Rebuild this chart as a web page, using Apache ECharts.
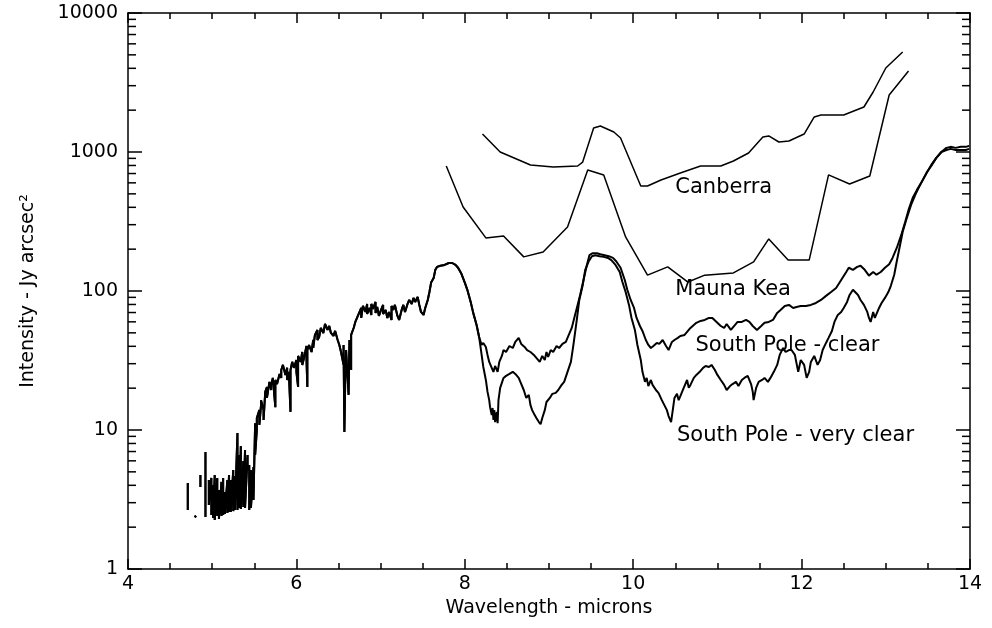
<!DOCTYPE html>
<html>
<head>
<meta charset="utf-8">
<script src="https://cdn.jsdelivr.net/npm/echarts@6/dist/echarts.min.js"></script>
<style>
html,body{margin:0;padding:0;background:#fff}
#chart{width:992px;height:628px}
</style>
</head>
<body>
<div id="chart"></div>
<script>
// Sky background spectra, wavelength in microns, intensity in Jy arcsec^-2
// common part of both South Pole spectra (null = gap in the trace)
var sharedWave = [4.71,4.71,4.75,4.79,4.81,4.83,4.86,4.86,4.89,4.92,4.92,4.94,
    4.96,4.96,4.99,4.99,5.01,5.01,5.03,5.03,5.06,5.06,5.08,5.08,5.11,5.11,5.13,5.13,5.15,5.15,
    5.18,5.18,5.20,5.20,5.22,5.22,5.25,5.25,5.27,5.27,5.30,5.30,5.32,5.32,5.34,5.34,5.37,5.37,
    5.39,5.39,5.42,5.42,5.44,5.44,5.46,5.46,5.49,5.49,5.51,5.51,5.53,5.53,5.56,5.56,5.58,5.58,
    5.61,5.61,5.63,5.65,5.65,5.68,5.70,5.70,5.72,5.75,5.75,5.77,5.80,5.82,5.82,5.84,5.87,5.89,5.89,
    5.91,5.93,5.93,5.95,5.97,6.00,6.00,6.02,6.02,6.05,6.07,6.07,6.09,6.12,6.12,6.13,6.13,6.15,
    6.18,6.20,6.20,6.22,6.25,6.25,6.27,6.29,6.32,6.34,6.37,6.39,6.41,6.44,6.46,6.49,6.51,6.53,
    6.56,6.56,6.57,6.58,6.59,6.62,6.63,6.65,6.65,6.68,6.70,6.72,6.75,6.77,6.77,6.79,6.82,6.84,6.84,
    6.87,6.89,6.89,6.91,6.94,6.94,6.96,6.98,7.01,7.03,7.03,7.06,7.08,7.10,7.13,7.13,7.15,7.17,
    7.20,7.22,7.25,7.27,7.29,7.32,7.34,7.37,7.39,7.41,7.44,7.46,7.48,7.51,7.53,7.56,7.58,7.60,
    7.63,7.65,7.67,7.71,7.76,7.81,7.85,7.89,7.92,7.96,8.00,8.03,8.07,8.10,8.14,8.17];
var sharedVal = [4.16,2.66,null,2.42,2.36,null,4.75,3.89,null,6.95,2.37,null,
    4.37,2.89,4.52,2.45,4.02,2.33,4.75,2.25,4.52,2.41,3.70,2.29,4.23,2.41,4.52,2.45,3.58,2.49,
    4.37,2.53,4.75,2.57,4.37,2.57,5.16,2.61,4.67,2.66,9.52,2.66,6.61,2.75,7.68,2.70,5.99,2.79,
    7.18,2.75,6.61,5.16,5.60,2.66,5.16,2.75,5.42,3.14,11.2,6.61,10.0,12.2,13.9,10.9,15.1,16.4,
    13.9,11.8,18.8,20.4,17.0,22.2,19.4,21.1,23.7,14.6,22.9,21.4,25.3,23.7,27.0,29.4,24.9,28.0,22.9,
    26.2,13.5,27.0,30.9,28.0,31.9,26.2,20.4,34.1,30.9,36.4,29.4,33.0,40.2,31.9,20.4,37.6,40.9,
    36.4,44.4,38.9,48.3,52.5,44.4,46.7,54.2,49.9,57.9,52.5,56.0,49.9,47.5,51.6,44.4,40.9,36.4,
    29.4,40.9,9.68,22.9,37.6,17.9,44.4,27.0,48.3,54.2,59.9,64.0,70.7,75.5,64.0,78.1,70.7,80.7,68.4,
    75.5,67.3,80.7,74.3,83.4,69.6,76.8,66.2,74.3,79.4,68.4,73.1,64.0,70.7,61.9,78.1,73.1,79.4,
    66.2,61.9,73.1,79.4,70.7,80.7,86.2,80.7,89.2,83.4,90.6,79.4,70.7,67.3,75.5,86.2,98.3,115,
    124,142,149,152,154,159,159,154,147,133,115,102,83.4,69.6,57.0,46.7];

var clearWave = [8.20,8.22,8.25,8.27,8.29,8.32,8.34,8.36,8.39,8.41,8.44,8.46,8.49,8.53,8.57,8.60,
    8.64,8.67,8.71,8.74,8.78,8.82,8.85,8.89,8.92,8.95,8.97,8.99,9.02,9.05,9.09,9.12,9.16,9.20,
    9.23,9.27,9.30,9.34,9.37,9.41,9.45,9.48,9.52,9.57,9.61,9.66,9.71,9.76,9.80,9.85,9.90,9.93,
    9.97,10.01,10.04,10.08,10.11,10.15,10.18,10.21,10.24,10.28,10.31,10.35,10.39,10.42,10.46,
    10.49,10.53,10.56,10.61,10.65,10.68,10.72,10.75,10.80,10.85,10.90,10.94,10.99,11.04,11.08,
    11.11,11.16,11.21,11.24,11.29,11.34,11.38,11.42,11.47,11.52,11.56,11.61,11.66,11.71,11.75,
    11.80,11.85,11.90,11.94,11.99,12.05,12.11,12.17,12.23,12.29,12.35,12.41,12.47,12.53,12.56,
    12.61,12.66,12.70,12.75,12.80,12.85,12.89,12.94,12.99,13.04,13.08,13.13,13.18,13.23,13.27,
    13.32,13.37,13.42,13.48,13.54,13.60,13.66,13.72,13.77,13.83,13.89,13.95,13.99];
var clearVal = [40.9,42.3,39.6,34.7,30.9,28.0,26.2,28.9,26.2,30.9,34.1,37.6,36.4,40.2,38.9,43.0,
    46.0,41.6,39.6,37.6,36.4,34.7,33.0,30.9,34.1,31.9,36.4,33.5,37.6,36.4,40.2,38.9,41.6,43.0,
    47.5,54.2,64.0,79.4,93.7,120,154,181,187,187,184,181,178,173,163,147,120,102,
    86.2,75.5,64.0,56.0,51.6,44.4,40.9,38.9,40.2,42.3,41.6,44.4,40.2,37.6,43.0,
    44.4,46.0,47.5,48.3,51.6,54.2,57.0,59.0,60.9,61.9,64.0,64.0,59.9,56.0,54.2,
    57.9,52.5,57.0,59.9,59.9,61.9,59.9,56.0,52.5,56.0,59.0,59.9,61.9,69.6,73.1,
    78.1,79.4,75.5,76.8,78.1,78.1,79.4,82.0,86.2,92.2,98.3,105,120,137,147,
    142,149,152,142,129,137,131,137,147,156,173,204,249,314,383,
    468,534,600,696,808,907,1000,1071,1089,1071,1089,1089,1107];

var veryClearWave = [8.20,8.22,8.25,8.27,8.29,8.30,8.32,8.33,8.34,8.35,8.36,8.38,8.39,8.40,8.42,
    8.46,8.49,8.53,8.57,8.60,8.64,8.66,8.70,8.73,8.76,8.78,8.80,8.83,8.85,8.88,8.90,8.92,8.95,
    8.97,9.01,9.04,9.08,9.11,9.15,9.18,9.22,9.26,9.29,9.33,9.36,9.40,9.43,9.47,9.51,9.55,9.60,
    9.65,9.70,9.74,9.79,9.84,9.87,9.91,9.95,9.98,10.02,10.05,10.09,10.11,10.14,10.16,10.18,
    10.21,10.23,10.27,10.30,10.34,10.37,10.40,10.42,10.45,10.47,10.49,10.52,10.54,10.56,10.60,
    10.64,10.66,10.68,10.72,10.75,10.79,10.83,10.86,10.90,10.93,10.97,11.00,11.04,11.08,11.11,
    11.15,11.18,11.22,11.25,11.29,11.32,11.36,11.40,11.42,11.43,11.46,11.49,11.53,11.56,11.60,
    11.63,11.67,11.71,11.74,11.78,11.81,11.85,11.88,11.92,11.96,11.99,12.03,12.06,12.09,12.11,
    12.15,12.19,12.22,12.25,12.29,12.32,12.36,12.39,12.43,12.47,12.50,12.54,12.57,12.61,12.63,
    12.67,12.70,12.74,12.78,12.80,12.82,12.85,12.87,12.89,12.92,12.95,12.99,13.03,13.06,13.10,
    13.13,13.17,13.20,13.25,13.30,13.35,13.39,13.44,13.49,13.54,13.60,13.66,13.72,13.77,13.83,
    13.89,13.95,13.99];
var veryClearVal = [34.7,28.4,22.9,18.8,16.4,14.6,12.8,14.4,11.8,13.9,11.4,13.5,11.2,16.4,20.1,
    23.7,24.5,25.3,26.2,25.3,23.7,22.2,19.4,17.0,17.9,15.1,13.9,12.8,12.2,11.4,11.0,12.2,13.9,
    15.9,17.0,18.2,18.5,19.4,21.1,22.2,26.2,30.9,40.9,61.9,86.2,110,142,163,178,181,178,
    176,173,167,154,137,117,98.3,79.4,64.0,52.5,40.9,31.9,26.2,22.2,23.7,20.7,
    22.9,21.1,19.4,18.5,16.4,15.1,13.9,12.6,11.4,13.9,17.0,18.2,16.4,17.5,20.1,
    22.9,20.1,21.1,23.7,24.9,26.2,28.0,28.9,28.4,29.4,27.0,24.9,22.9,21.1,19.4,
    20.7,21.4,22.2,20.7,22.9,23.7,24.5,21.4,18.8,16.4,20.1,22.2,22.9,23.7,22.2,
    23.7,26.2,29.4,34.7,38.9,36.4,37.6,37.6,34.7,26.2,31.9,29.4,23.7,26.2,30.9,
    34.1,29.4,31.9,37.6,42.3,46.0,51.6,59.9,67.3,70.7,75.5,83.4,93.7,102,105,
    93.7,86.2,79.4,70.7,64.0,59.9,70.7,64.0,68.4,75.5,82.0,89.2,98.3,109,131,
    163,215,266,336,416,491,552,630,720,795,907,1000,1034,1053,1034,
    1034,1034,1053];

var maunaWave = [7.78,7.98,8.25,8.46,8.70,8.93,9.22,9.46,9.65,9.91,10.17,10.41,10.65,10.85,
    11.19,11.43,11.61,11.84,12.09,12.32,12.57,12.81,13.04,13.27];
var maunaVal = [793,402,241,249,176,191,289,742,684,245,130,149,116,130,
    135,162,237,167,167,684,589,672,2570,3826];

var canberraWave = [8.21,8.42,8.78,9.05,9.34,9.40,9.53,9.61,9.77,9.85,10.09,10.17,10.33,10.56,
    10.80,11.04,11.19,11.37,11.54,11.61,11.73,11.85,12.03,12.15,12.23,12.50,12.74,12.85,13.00,13.20];
var canberraVal = [1347,1000,806,780,793,846,1489,1538,1393,1261,569,569,629,706,
    793,793,861,984,1282,1304,1180,1200,1347,1786,1846,1846,2108,2702,4020,5240];

// site labels
var siteNames = ['Canberra', 'Mauna Kea', 'South Pole - clear', 'South Pole - very clear'];
var siteWave = [10.50, 10.50, 10.74, 10.52];
var siteVal = [551, 102, 40.2, 9.06];

var xTicks = [4, 6, 8, 10, 12, 14];
var yTicks = [1, 10, 100, 1000, 10000];
var yMinorTicks = [2,3,4,5,6,7,8,9, 20,30,40,50,60,70,80,90,
    200,300,400,500,600,700,800,900, 2000,3000,4000,5000,6000,7000,8000,9000];

function pairs(wave, val){
    return wave.map(function(w, i){
        return [w, val[i] == null ? '-' : val[i]];
    });
}

var font = 'DejaVu Sans';
var black = '#000';

var myChart = echarts.init(document.getElementById('chart'));

function xAxisOpt(pos, showLabel){
    return {
        type: 'value', position: pos,
        min: xTicks[0], max: xTicks[xTicks.length - 1], interval: 2,
        name: showLabel ? 'Wavelength - microns' : '',
        nameLocation: 'middle', nameGap: 29,
        nameTextStyle: {color: black, fontFamily: font, fontSize: 19},
        axisLine: {show: true, onZero: false, lineStyle: {color: black, width: 1.5}},
        axisTick: {show: true, inside: true, length: 10, lineStyle: {color: black, width: 1.5}},
        minorTick: {show: true, splitNumber: 4, length: 6, lineStyle: {color: black, width: 1.5}},
        axisLabel: {show: showLabel, color: black, fontFamily: font, fontSize: 19, margin: 6},
        splitLine: {show: false}
    };
}
function yAxisOpt(pos, showLabel){
    return {
        type: 'log', logBase: 10, position: pos,
        min: yTicks[0], max: yTicks[yTicks.length - 1],
        name: showLabel ? 'Intensity - Jy arcsec\u00b2' : '',
        nameLocation: 'middle', nameGap: 90,
        nameTextStyle: {color: black, fontFamily: font, fontSize: 19},
        axisLine: {show: true, onZero: false, lineStyle: {color: black, width: 1.5}},
        axisTick: {show: true, inside: true, length: 14, lineStyle: {color: black, width: 1.5}},
        axisLabel: {show: showLabel, color: black, fontFamily: font, fontSize: 19, margin: 10,
            formatter: function(v){ return String(Math.round(v)); }},
        splitLine: {show: false}
    };
}

function lineSeries(name, data, width){
    return {
        name: name, type: 'line', data: data,
        xAxisIndex: 0, yAxisIndex: 0,
        showSymbol: false, symbol: 'none', connectNulls: false,
        lineStyle: {color: black, width: width},
        z: 3
    };
}

var option = {
    animation: false,
    backgroundColor: '#fff',
    grid: {left: 128, right: 22, top: 13, bottom: 59, containLabel: false},
    xAxis: [xAxisOpt('bottom', true), xAxisOpt('top', false)],
    yAxis: [yAxisOpt('left', true), yAxisOpt('right', false)],
    series: [
        lineSeries('Canberra', pairs(canberraWave, canberraVal), 1.5),
        lineSeries('Mauna Kea', pairs(maunaWave, maunaVal), 1.5),
        lineSeries('South Pole - clear', pairs(sharedWave.concat(clearWave), sharedVal.concat(clearVal)), 2),
        lineSeries('South Pole - very clear', pairs(sharedWave.concat(veryClearWave), sharedVal.concat(veryClearVal)), 2),
        {
            // minor log ticks on left and right frame
            type: 'custom', xAxisIndex: 0, yAxisIndex: 0,
            data: yMinorTicks.map(function(v){ return [xTicks[0], v]; }),
            encode: {x: 0, y: 1},
            silent: true, z: 4,
            renderItem: function(params, api){
                var v = api.value(1);
                var l = api.coord([xTicks[0], v]);
                var r = api.coord([xTicks[xTicks.length - 1], v]);
                return {
                    type: 'group',
                    children: [
                        {type: 'line', shape: {x1: l[0], y1: l[1], x2: l[0] + 8, y2: l[1]}, style: {stroke: black, lineWidth: 1.5}},
                        {type: 'line', shape: {x1: r[0], y1: r[1], x2: r[0] - 8, y2: r[1]}, style: {stroke: black, lineWidth: 1.5}}
                    ]
                };
            }
        },
        {
            type: 'scatter', xAxisIndex: 0, yAxisIndex: 0,
            symbolSize: 0, silent: true, z: 5,
            data: siteNames.map(function(n, i){ return {name: n, value: [siteWave[i], siteVal[i]]}; }),
            label: {
                show: true, position: 'right', distance: 0,
                formatter: '{b}', color: black, opacity: 1, textBorderWidth: 0,
                fontFamily: font, fontSize: 21
            }
        }
    ]
};
myChart.setOption(option);
</script>
</body>
</html>
